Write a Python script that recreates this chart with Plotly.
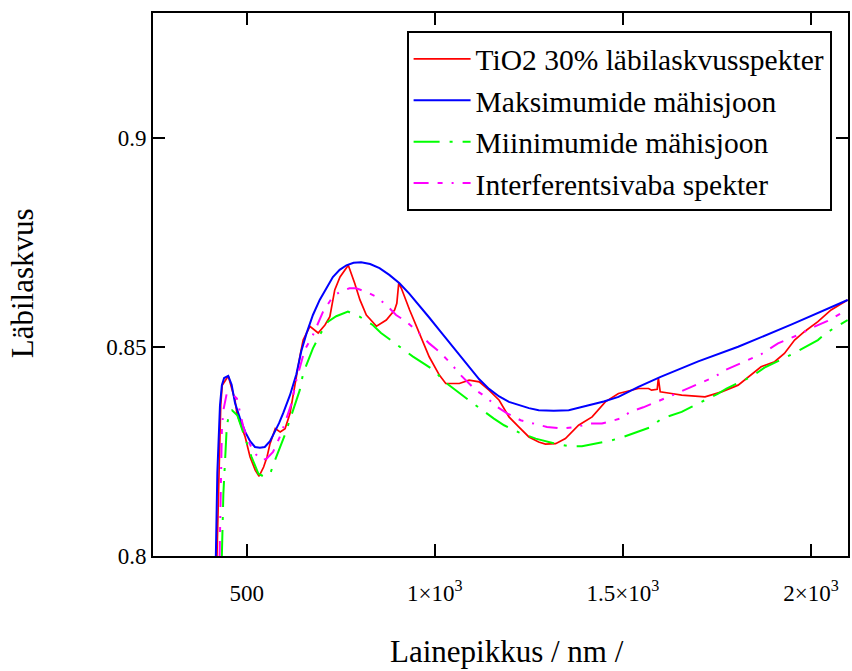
import plotly.graph_objects as go

# ---- data ----
red_nm = [421, 431, 435, 451, 469, 474, 496, 509, 523, 533, 545, 554, 562, 576, 589, 602, 615, 624, 633,
          642, 650, 668, 690, 708, 721, 734, 748, 770, 787, 801, 818, 845, 871, 893, 899, 904, 911, 933,
          959, 985, 1012, 1029, 1065, 1091, 1118, 1144, 1171, 1197, 1223, 1250, 1276, 1294, 1321, 1347,
          1382, 1418, 1453, 1488, 1541, 1568, 1576, 1591, 1594, 1599, 1629, 1656, 1718, 1762, 1806, 1841,
          1867, 1903, 1929, 1956, 1982, 2018, 2053, 2097]
red_T = [0.800, 0.8361, 0.8409, 0.8431, 0.8373, 0.8341, 0.8285, 0.8237, 0.8205, 0.8191, 0.8213, 0.8237,
         0.8269, 0.8305, 0.8297, 0.8305, 0.8341, 0.8389, 0.8437, 0.8481, 0.8517, 0.8550, 0.8534, 0.8553,
         0.8573, 0.8637, 0.8668, 0.8696, 0.8653, 0.8613, 0.8577, 0.8550, 0.8565, 0.8589, 0.8605, 0.8653,
         0.8641, 0.8589, 0.8533, 0.8477, 0.8433, 0.8413, 0.8413, 0.8421, 0.8417, 0.8397, 0.8373, 0.8333,
         0.8309, 0.8285, 0.8273, 0.8268, 0.8269, 0.8281, 0.8313, 0.8333, 0.8369, 0.8389, 0.8401, 0.8401,
         0.8397, 0.8399, 0.8426, 0.8393, 0.8389, 0.8385, 0.8381, 0.8393, 0.8409, 0.8433, 0.8453, 0.8465,
         0.8485, 0.8517, 0.8537, 0.8561, 0.8589, 0.8613]

max_nm = [418, 422, 429, 434, 440, 451, 460, 469, 482, 496, 509, 522, 535, 548, 562, 575, 586, 597, 615,
          632, 645, 659, 676, 694, 712, 729, 747, 765, 784, 804, 828, 853, 879, 906, 932, 959, 985, 1012,
          1038, 1065, 1091, 1118, 1144, 1171, 1197, 1223, 1250, 1276, 1316, 1356, 1382, 1409, 1449, 1488,
          1541, 1600, 1700, 1806, 1950, 2097]
max_T = [0.800, 0.8200, 0.8361, 0.8409, 0.8426, 0.8431, 0.8410, 0.8366, 0.8330, 0.8297, 0.8275, 0.8261,
         0.8259, 0.8261, 0.8275, 0.8297, 0.8318, 0.8342, 0.8385, 0.8435, 0.8490, 0.8533, 0.8577, 0.8613,
         0.8643, 0.8668, 0.8685, 0.8696, 0.8702, 0.8703, 0.8699, 0.8689, 0.8673, 0.8653, 0.8628, 0.8600,
         0.8571, 0.8541, 0.8512, 0.8482, 0.8451, 0.8423, 0.8400, 0.8382, 0.8369, 0.8361, 0.8354, 0.8349,
         0.8348, 0.8349, 0.8354, 0.8361, 0.8370, 0.8381, 0.8405, 0.8429, 0.8466, 0.8501, 0.8555, 0.8613]

min_nm = [434, 438, 443, 447, 454, 461, 475, 500, 513, 531, 544, 562, 575, 601, 615, 641, 650, 676, 694,
          716, 738, 769, 800, 835, 857, 888, 919, 941, 977, 1003, 1020, 1078, 1096, 1157, 1184, 1223,
          1268, 1316, 1356, 1391, 1435, 1470, 1501, 1572, 1603, 1656, 1682, 1753, 1775, 1841, 1876, 1929,
          1956, 2018, 2040, 2097]
min_T = [0.800, 0.8149, 0.8237, 0.8309, 0.8345, 0.8349, 0.8337, 0.8269, 0.8237, 0.8197, 0.8191, 0.8196,
         0.8229, 0.8289, 0.8325, 0.8397, 0.8437, 0.8497, 0.8529, 0.8561, 0.8574, 0.8585, 0.8573, 0.8553,
         0.8534, 0.8513, 0.8493, 0.8478, 0.8457, 0.8441, 0.8421, 0.8381, 0.8369, 0.8329, 0.8313, 0.8296,
         0.8281, 0.8270, 0.8263, 0.8263, 0.8270, 0.8277, 0.8285, 0.8308, 0.8329, 0.8345, 0.8357, 0.8389,
         0.8401, 0.8429, 0.8451, 0.8473, 0.8486, 0.8517, 0.8534, 0.8565]

mid_nm = [428, 434, 438, 447, 456, 465, 474, 491, 504, 518, 540, 553, 570, 588, 601, 619, 632, 641, 654,
          676, 703, 729, 747, 773, 791, 818, 844, 871, 897, 924, 950, 985, 1012, 1047, 1060, 1109, 1135,
          1166, 1193, 1228, 1268, 1298, 1338, 1374, 1413, 1444, 1493, 1519, 1554, 1590, 1621, 1682, 1744,
          1771, 1832, 1867, 1912, 1965, 2009, 2044, 2097]
mid_T = [0.800, 0.8301, 0.8349, 0.8389, 0.8389, 0.8385, 0.8377, 0.8309, 0.8277, 0.8249, 0.8229, 0.8233,
         0.8249, 0.8285, 0.8317, 0.8365, 0.8421, 0.8453, 0.8493, 0.8529, 0.8585, 0.8621, 0.8632, 0.8641,
         0.8641, 0.8632, 0.8621, 0.8601, 0.8577, 0.8561, 0.8541, 0.8509, 0.8489, 0.8457, 0.8441, 0.8397,
         0.8381, 0.8357, 0.8341, 0.8325, 0.8316, 0.8309, 0.8305, 0.8309, 0.8317, 0.8317, 0.8329, 0.8345,
         0.8356, 0.8369, 0.8381, 0.8405, 0.8429, 0.8445, 0.8469, 0.8483, 0.8509, 0.8529, 0.8549, 0.8563,
         0.8590]

names = ["TiO2 30% läbilaskvusspekter", "Maksimumide mähisjoon",
         "Miinimumide mähisjoon", "Interferentsivaba spekter"]
x_tick_vals = [500, 1000, 1500, 2000]
x_tick_text = ["500", "1×10<sup>3</sup>", "1.5×10<sup>3</sup>", "2×10<sup>3</sup>"]
y_tick_vals = [0.8, 0.85, 0.9]
y_tick_text = ["0.8", "0.85", "0.9"]

SERIF = "Liberation Serif"

fig = go.Figure()
fig.add_trace(go.Scatter(x=red_nm, y=red_T, mode="lines", name=names[0],
                         line=dict(color="#ff0000", width=1.7)))
fig.add_trace(go.Scatter(x=max_nm, y=max_T, mode="lines", name=names[1],
                         line=dict(color="#0000ff", width=2)))
fig.add_trace(go.Scatter(x=min_nm, y=min_T, mode="lines", name=names[2],
                         line=dict(color="#00ff00", width=2, dash="26px,10px,3px,10px")))
fig.add_trace(go.Scatter(x=mid_nm, y=mid_T, mode="lines", name=names[3],
                         line=dict(color="#ff00ff", width=2, dash="15px,9px,5px,9px,2px,9px")))

axis_common = dict(showgrid=False, zeroline=False, showline=True, linecolor="black", linewidth=2,
                   mirror="ticks", ticks="inside", ticklen=12, tickwidth=2, tickcolor="black",
                   tickfont=dict(family=SERIF, size=23, color="black"))

fig.update_xaxes(range=[251, 2098], tickmode="array", tickvals=x_tick_vals, ticktext=x_tick_text,
                 ticklabelstandoff=15, **axis_common)
fig.update_yaxes(range=[0.8, 0.93], tickmode="array", tickvals=y_tick_vals, ticktext=y_tick_text,
                 ticklabelstandoff=0, **axis_common)

fig.update_layout(
    width=852, height=671,
    margin=dict(l=153, r=2, t=13, b=115),
    paper_bgcolor="white", plot_bgcolor="white",
    font=dict(family=SERIF, color="black"),
    showlegend=True,
    legend=dict(x=0.9764, y=0.9663, xanchor="right", yanchor="top",
                bgcolor="white", bordercolor="black", borderwidth=2,
                font=dict(family=SERIF, size=29.5, color="black"),
                itemwidth=57, tracegroupgap=0),
    annotations=[
        dict(text="Lainepikkus / nm /", xref="paper", yref="paper", x=0.509, y=-0.176,
             xanchor="center", yanchor="middle", showarrow=False,
             font=dict(family=SERIF, size=31, color="black")),
        dict(text="Läbilaskvus", xref="paper", yref="paper", x=-0.1873, y=0.502,
             xanchor="center", yanchor="middle", showarrow=False, textangle=-90,
             font=dict(family=SERIF, size=31, color="black")),
    ],
)

fig.write_html("out.html")
